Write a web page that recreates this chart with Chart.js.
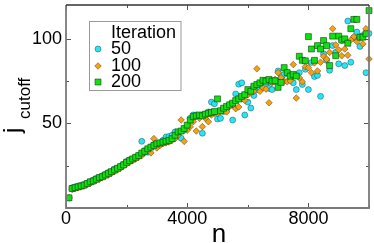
<!DOCTYPE html>
<html>
<head>
<meta charset="utf-8">
<script src="https://cdn.jsdelivr.net/npm/chart.js@4.4.0/dist/chart.umd.min.js"></script>
<style>
  html, body { margin: 0; padding: 0; background: #fff; }
  #wrap { width: 374px; height: 243px; }
</style>
</head>
<body>
<div id="wrap"><canvas id="chart" width="374" height="243"></canvas></div>
<script>
const nValues = [
    100, 200, 300, 400, 500, 600, 700, 800, 900, 1000,
    1100, 1200, 1300, 1400, 1500, 1600, 1700, 1800, 1900, 2000,
    2100, 2200, 2300, 2400, 2500, 2600, 2700, 2800, 2900, 3000,
    3100, 3200, 3300, 3400, 3500, 3600, 3700, 3800, 3900, 4000,
    4100, 4200, 4300, 4400, 4500, 4600, 4700, 4800, 4900, 5000,
    5100, 5200, 5300, 5400, 5500, 5600, 5700, 5800, 5900, 6000,
    6100, 6200, 6300, 6400, 6500, 6600, 6700, 6800, 6900, 7000,
    7100, 7200, 7300, 7400, 7500, 7600, 7700, 7800, 7900, 8000,
    8100, 8200, 8300, 8400, 8500, 8600, 8700, 8800, 8900, 9000,
    9100, 9200, 9300, 9400, 9500, 9600, 9700, 9800, 9900, 10000
];

// j_cutoff, iteration 50
const iter50 = [
    6, 12, 12.5, 13, 13.5, 14, 14.5, 15.5, 16.5, 17.5,
    18, 19, 20, 21, 21.5, 23, 23.5, 24.5, 26, 27.5,
    28.5, 29, 30, 31, 39.4, 34, 33, 36, 37.5, 38,
    37.5, 40, 42, 42.3, 43, 45, 44, 41.3, 46, 48,
    53, 55, 55, 54, 44.2, 55.5, 56.8, 62.6, 61.6, 52.6,
    53, 57, 58, 61, 52, 67.4, 73.2, 74, 55, 62.6,
    59.1, 66.5, 70, 71, 72, 72.6, 70.7, 70, 75.2, 81,
    77, 79, 80, 76, 74, 70, 80, 73, 82, 70,
    86, 77.7, 78.4, 66, 91.2, 87.3, 81.4, 96, 92, 85.2,
    99, 84.2, 110.5, 86.2, 100.7, 104, 95.5, 102, 80, 103.2
];

// j_cutoff, iteration 100
const iter100 = [
    6, 11, 11.5, 12, 12.5, 13, 14, 14.5, 15.5, 16.5,
    17, 18, 19, 19.5, 20.5, 21.5, 22.5, 23.5, 25, 26,
    27, 28, 29, 30, 31, 33, 34, 32.6, 41, 35.5,
    37, 38, 38.5, 39, 40, 41, 43, 52, 39.4, 46,
    48, 51, 45.5, 53, 48.1, 53, 51, 55, 56, 56,
    57, 58, 56.8, 60, 61, 58.7, 59.7, 64.5, 63.6, 67,
    68, 69, 82.3, 69, 71, 70.3, 62.2, 74, 76, 80,
    77, 75, 74.6, 75.2, 84.8, 65, 77, 74.6, 83.5, 82.9,
    80, 85.8, 81, 86.2, 89.7, 88, 92, 106, 96.4, 93.5,
    90, 94, 90.3, 99.3, 101.3, 98.4, 100.9, 97, 106, 88.1
];

// j_cutoff, iteration 200
const iter200 = [
    6, 11.5, 12, 12.5, 13, 13.5, 14.5, 15.5, 16, 17,
    18, 18.5, 19.5, 20.5, 21.5, 22.5, 23.5, 24.5, 25.5, 27,
    28, 29, 30, 31, 32.5, 33.5, 35, 36, 37, 38,
    38.5, 39, 39.5, 40, 41, 43, 45, 45.5, 47, 49,
    52, 54, 54.5, 55, 54.5, 55.5, 56, 56.5, 57, 64.5,
    57.5, 59, 60, 61, 62, 63.5, 64.5, 66, 67, 70,
    69, 72, 73, 74, 75.5, 75, 76, 75, 75.2, 71.3,
    74.2, 83, 80, 78, 79, 78, 89.7, 87.3, 87, 101.3,
    94, 87.3, 96, 94, 99, 96, 84.2, 101.6, 90, 101.6,
    99.3, 100, 97.4, 106, 111.5, 111.5, 101, 101, 103, 116.7
];

const seriesNames = ['50', '100', '200'];
const legendTitle = 'Iteration';
const xTickValues = [0, 4000, 8000];
const xMinorTicks = [2000, 6000, 10000];
const yTickValues = [50, 100];
const yMinorTicks = [25, 75];

const FONT = '"Liberation Sans", Arial, Helvetica, sans-serif';

function toPoints(ys) {
    return ys.map((v, i) => ({ x: nValues[i], y: v }));
}

const styles = [
    { pointStyle: 'circle', radius: 3, bg: 'rgb(40,228,245)', border: 'rgba(20,60,70,0.55)' },
    { pointStyle: 'rectRot', radius: 3.3, bg: 'rgb(245,160,20)', border: 'rgba(90,50,0,0.6)' },
    { pointStyle: 'rect', radius: 4.2, bg: 'rgb(20,222,20)', border: 'rgba(0,60,0,0.7)' },
];

const allSeries = [iter50, iter100, iter200];

const datasets = allSeries.map((ys, i) => ({
    label: seriesNames[i],
    data: toPoints(ys),
    order: 3 - i,
    pointStyle: styles[i].pointStyle,
    pointRadius: styles[i].radius,
    pointBackgroundColor: styles[i].bg,
    pointBorderColor: styles[i].border,
    pointBorderWidth: 0.8,
    showLine: false,
    clip: false,
}));

// frame, inward ticks, axis titles, legend
const decorPlugin = {
    id: 'decor',
    afterDatasetsDraw(chart) {
        const ctx = chart.ctx;
        const a = chart.chartArea;
        const xs = chart.scales.x;
        const ys = chart.scales.y;
        ctx.save();

        // ticks
        ctx.strokeStyle = '#555';
        ctx.lineWidth = 1;
        const tick = (px, len, vertical) => {
            ctx.beginPath();
            if (vertical) {
                ctx.moveTo(px, a.bottom); ctx.lineTo(px, a.bottom - len);
                ctx.moveTo(px, a.top); ctx.lineTo(px, a.top + len);
            } else {
                ctx.moveTo(a.left, px); ctx.lineTo(a.left + len, px);
                ctx.moveTo(a.right, px); ctx.lineTo(a.right - len, px);
            }
            ctx.stroke();
        };
        xTickValues.forEach(v => tick(Math.round(xs.getPixelForValue(v)) + 0.5, 5, true));
        xMinorTicks.forEach(v => tick(Math.round(xs.getPixelForValue(v)) + 0.5, 3, true));
        yTickValues.forEach(v => tick(Math.round(ys.getPixelForValue(v)) + 0.5, 5, false));
        yMinorTicks.forEach(v => tick(Math.round(ys.getPixelForValue(v)) + 0.5, 3, false));

        // frame
        ctx.strokeStyle = '#7a7a7a';
        ctx.lineWidth = 1.8;
        ctx.beginPath();
        ctx.moveTo(a.left, a.top);
        ctx.lineTo(a.left, a.bottom);
        ctx.lineTo(a.right, a.bottom);
        ctx.lineTo(a.right, a.top);
        ctx.stroke();
        ctx.strokeStyle = '#333';
        ctx.lineWidth = 1.5;
        ctx.beginPath();
        ctx.moveTo(a.left, a.top);
        ctx.lineTo(a.right, a.top);
        ctx.stroke();

        // x title
        ctx.fillStyle = '#000';
        ctx.font = '26px ' + FONT;
        ctx.textAlign = 'center';
        ctx.textBaseline = 'alphabetic';
        ctx.fillText('n', 219, 242);

        // y title j_cutoff, rotated
        ctx.save();
        ctx.translate(20, 133);
        ctx.rotate(-Math.PI / 2);
        ctx.textAlign = 'left';
        ctx.font = '24px ' + FONT;
        ctx.fillText('j', 0, 0);
        ctx.font = '17px ' + FONT;
        ctx.fillText('cutoff', 14, 10);
        ctx.restore();

        // legend
        ctx.fillStyle = '#fff';
        ctx.fillRect(89.5, 21.5, 91.5, 69);
        ctx.strokeStyle = '#999';
        ctx.lineWidth = 1;
        ctx.strokeRect(89.5, 21.5, 91.5, 69);
        ctx.fillStyle = '#000';
        ctx.font = '18px ' + FONT;
        ctx.textAlign = 'left';
        ctx.textBaseline = 'middle';
        ctx.fillText(legendTitle, 111, 33);
        const rowsY = [49, 66, 82];
        seriesNames.forEach((name, i) => {
            ctx.fillStyle = styles[i].bg;
            ctx.strokeStyle = styles[i].border;
            ctx.lineWidth = 0.8;
            Chart.helpers.drawPoint(ctx, {
                pointStyle: styles[i].pointStyle,
                radius: styles[i].radius,
                rotation: 0,
                borderWidth: 0.8,
            }, 98, rowsY[i]);
            ctx.fillStyle = '#000';
            ctx.fillText(name, 111, rowsY[i]);
        });

        ctx.restore();
    }
};

const div = document.getElementById('chart');
const config = {
    type: 'scatter',
    data: { datasets: datasets },
    options: {
        responsive: false,
        animation: false,
        devicePixelRatio: 1,
        events: [],
        layout: { padding: { top: 1, right: 2, left: 0, bottom: 0 } },
        plugins: {
            legend: { display: false },
            tooltip: { enabled: false },
        },
        scales: {
            x: {
                type: 'linear',
                min: 0,
                max: 10000,
                grid: { display: false, drawTicks: false },
                border: { display: false },
                afterBuildTicks: s => { s.ticks = xTickValues.map(v => ({ value: v })); },
                afterFit: s => { s.height = 35; s.paddingLeft = 0; s.paddingRight = 0; },
                ticks: {
                    padding: 0,
                    maxRotation: 0,
                    color: '#000',
                    font: { family: FONT, size: 18 },
                    callback: v => String(v),
                },
            },
            y: {
                type: 'linear',
                min: 0,
                max: 120,
                grid: { display: false, drawTicks: false },
                border: { display: false },
                afterBuildTicks: s => { s.ticks = yTickValues.map(v => ({ value: v })); },
                afterFit: s => { s.width = 66; s.paddingTop = 0; s.paddingBottom = 0; },
                ticks: {
                    padding: 4,
                    color: '#000',
                    font: { family: FONT, size: 18 },
                    callback: v => String(v),
                },
            },
        },
    },
    plugins: [decorPlugin],
};

new Chart(div, config);
</script>
</body>
</html>
